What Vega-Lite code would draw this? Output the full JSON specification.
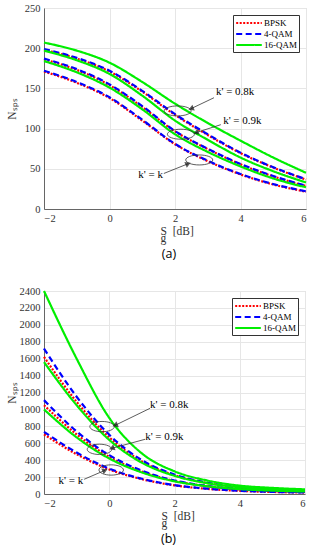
{
  "$schema": "https://vega.github.io/schema/vega-lite/v6.json",
  "padding": {"left": 5, "top": 2, "right": 4, "bottom": 2},
  "background": "white",
  "config": {
    "view": {"stroke": "#d0d0d0", "strokeWidth": 1},
    "axis": {"labelFont": "Liberation Serif", "labelFontSize": 10.5, "labelColor": "#333333", "titleFont": "Liberation Serif", "titleFontSize": 11.5, "titleFontWeight": "normal", "titleColor": "#333333", "gridColor": "#e6e6e6", "domainColor": "#666666", "ticks": false, "labelPadding": 4, "titleLineHeight": 7, "labelOverlap": false, "format": "d"},
    "legend": {"orient": "top-right", "offset": 7, "strokeColor": "#333333", "fillColor": "white", "padding": 2, "labelFont": "Liberation Serif", "labelFontSize": 9, "labelColor": "#000000", "symbolType": "M-2.7,0H2.7", "symbolSize": 90, "symbolOffset": 8, "labelOffset": 9, "rowPadding": 0, "symbolStrokeWidth": 2},
    "title": {"font": "Open Sans", "fontSize": 12.5, "fontWeight": "normal", "color": "#000000"}
  },
  "datasets": {
    "curves": [
      {"panel":"a","mod":"BPSK","grp":"k","sg":-2,"nsps":171},{"panel":"a","mod":"BPSK","grp":"k","sg":-1,"nsps":157},{"panel":"a","mod":"BPSK","grp":"k","sg":0,"nsps":138},{"panel":"a","mod":"BPSK","grp":"k","sg":1,"nsps":110},{"panel":"a","mod":"BPSK","grp":"k","sg":2,"nsps":80.5},{"panel":"a","mod":"BPSK","grp":"k","sg":3,"nsps":59.5},{"panel":"a","mod":"BPSK","grp":"k","sg":4,"nsps":43},{"panel":"a","mod":"BPSK","grp":"k","sg":5,"nsps":30.5},{"panel":"a","mod":"BPSK","grp":"k","sg":6,"nsps":21.5},
      {"panel":"a","mod":"BPSK","grp":"0.9k","sg":-2,"nsps":186},{"panel":"a","mod":"BPSK","grp":"0.9k","sg":-1,"nsps":173},{"panel":"a","mod":"BPSK","grp":"0.9k","sg":0,"nsps":154},{"panel":"a","mod":"BPSK","grp":"0.9k","sg":1,"nsps":127},{"panel":"a","mod":"BPSK","grp":"0.9k","sg":2,"nsps":96.5},{"panel":"a","mod":"BPSK","grp":"0.9k","sg":3,"nsps":74.5},{"panel":"a","mod":"BPSK","grp":"0.9k","sg":4,"nsps":55.5},{"panel":"a","mod":"BPSK","grp":"0.9k","sg":5,"nsps":40.5},{"panel":"a","mod":"BPSK","grp":"0.9k","sg":6,"nsps":28.5},
      {"panel":"a","mod":"BPSK","grp":"0.8k","sg":-2,"nsps":198},{"panel":"a","mod":"BPSK","grp":"0.8k","sg":-1,"nsps":187},{"panel":"a","mod":"BPSK","grp":"0.8k","sg":0,"nsps":171},{"panel":"a","mod":"BPSK","grp":"0.8k","sg":1,"nsps":146},{"panel":"a","mod":"BPSK","grp":"0.8k","sg":2,"nsps":117},{"panel":"a","mod":"BPSK","grp":"0.8k","sg":3,"nsps":92},{"panel":"a","mod":"BPSK","grp":"0.8k","sg":4,"nsps":69.5},{"panel":"a","mod":"BPSK","grp":"0.8k","sg":5,"nsps":51.5},{"panel":"a","mod":"BPSK","grp":"0.8k","sg":6,"nsps":36.5},
      {"panel":"a","mod":"4-QAM","grp":"k","sg":-2,"nsps":172},{"panel":"a","mod":"4-QAM","grp":"k","sg":-1,"nsps":158},{"panel":"a","mod":"4-QAM","grp":"k","sg":0,"nsps":139},{"panel":"a","mod":"4-QAM","grp":"k","sg":1,"nsps":111},{"panel":"a","mod":"4-QAM","grp":"k","sg":2,"nsps":81},{"panel":"a","mod":"4-QAM","grp":"k","sg":3,"nsps":60},{"panel":"a","mod":"4-QAM","grp":"k","sg":4,"nsps":43.5},{"panel":"a","mod":"4-QAM","grp":"k","sg":5,"nsps":31},{"panel":"a","mod":"4-QAM","grp":"k","sg":6,"nsps":22},
      {"panel":"a","mod":"4-QAM","grp":"0.9k","sg":-2,"nsps":187},{"panel":"a","mod":"4-QAM","grp":"0.9k","sg":-1,"nsps":174},{"panel":"a","mod":"4-QAM","grp":"0.9k","sg":0,"nsps":155},{"panel":"a","mod":"4-QAM","grp":"0.9k","sg":1,"nsps":128},{"panel":"a","mod":"4-QAM","grp":"0.9k","sg":2,"nsps":97},{"panel":"a","mod":"4-QAM","grp":"0.9k","sg":3,"nsps":75},{"panel":"a","mod":"4-QAM","grp":"0.9k","sg":4,"nsps":56},{"panel":"a","mod":"4-QAM","grp":"0.9k","sg":5,"nsps":41},{"panel":"a","mod":"4-QAM","grp":"0.9k","sg":6,"nsps":29},
      {"panel":"a","mod":"4-QAM","grp":"0.8k","sg":-2,"nsps":199},{"panel":"a","mod":"4-QAM","grp":"0.8k","sg":-1,"nsps":188},{"panel":"a","mod":"4-QAM","grp":"0.8k","sg":0,"nsps":172},{"panel":"a","mod":"4-QAM","grp":"0.8k","sg":1,"nsps":147},{"panel":"a","mod":"4-QAM","grp":"0.8k","sg":2,"nsps":118},{"panel":"a","mod":"4-QAM","grp":"0.8k","sg":3,"nsps":93},{"panel":"a","mod":"4-QAM","grp":"0.8k","sg":4,"nsps":70},{"panel":"a","mod":"4-QAM","grp":"0.8k","sg":5,"nsps":52},{"panel":"a","mod":"4-QAM","grp":"0.8k","sg":6,"nsps":37},
      {"panel":"a","mod":"16-QAM","grp":"k","sg":-2,"nsps":184},{"panel":"a","mod":"16-QAM","grp":"k","sg":-1,"nsps":170},{"panel":"a","mod":"16-QAM","grp":"k","sg":0,"nsps":151},{"panel":"a","mod":"16-QAM","grp":"k","sg":1,"nsps":124},{"panel":"a","mod":"16-QAM","grp":"k","sg":2,"nsps":93},{"panel":"a","mod":"16-QAM","grp":"k","sg":3,"nsps":71},{"panel":"a","mod":"16-QAM","grp":"k","sg":4,"nsps":53},{"panel":"a","mod":"16-QAM","grp":"k","sg":5,"nsps":38},{"panel":"a","mod":"16-QAM","grp":"k","sg":6,"nsps":27},
      {"panel":"a","mod":"16-QAM","grp":"0.9k","sg":-2,"nsps":197},{"panel":"a","mod":"16-QAM","grp":"0.9k","sg":-1,"nsps":185},{"panel":"a","mod":"16-QAM","grp":"0.9k","sg":0,"nsps":168},{"panel":"a","mod":"16-QAM","grp":"0.9k","sg":1,"nsps":141},{"panel":"a","mod":"16-QAM","grp":"0.9k","sg":2,"nsps":110},{"panel":"a","mod":"16-QAM","grp":"0.9k","sg":3,"nsps":86},{"panel":"a","mod":"16-QAM","grp":"0.9k","sg":4,"nsps":64},{"panel":"a","mod":"16-QAM","grp":"0.9k","sg":5,"nsps":47},{"panel":"a","mod":"16-QAM","grp":"0.9k","sg":6,"nsps":33},
      {"panel":"a","mod":"16-QAM","grp":"0.8k","sg":-2,"nsps":207},{"panel":"a","mod":"16-QAM","grp":"0.8k","sg":-1,"nsps":197},{"panel":"a","mod":"16-QAM","grp":"0.8k","sg":0,"nsps":182},{"panel":"a","mod":"16-QAM","grp":"0.8k","sg":1,"nsps":158},{"panel":"a","mod":"16-QAM","grp":"0.8k","sg":2,"nsps":131},{"panel":"a","mod":"16-QAM","grp":"0.8k","sg":3,"nsps":107},{"panel":"a","mod":"16-QAM","grp":"0.8k","sg":4,"nsps":85},{"panel":"a","mod":"16-QAM","grp":"0.8k","sg":5,"nsps":64},{"panel":"a","mod":"16-QAM","grp":"0.8k","sg":6,"nsps":45},
      {"panel":"b","mod":"BPSK","grp":"k","sg":-2,"nsps":705},{"panel":"b","mod":"BPSK","grp":"k","sg":-1,"nsps":470},{"panel":"b","mod":"BPSK","grp":"k","sg":0,"nsps":290},{"panel":"b","mod":"BPSK","grp":"k","sg":1,"nsps":175},{"panel":"b","mod":"BPSK","grp":"k","sg":2,"nsps":102},{"panel":"b","mod":"BPSK","grp":"k","sg":3,"nsps":61},{"panel":"b","mod":"BPSK","grp":"k","sg":4,"nsps":37},{"panel":"b","mod":"BPSK","grp":"k","sg":5,"nsps":24},{"panel":"b","mod":"BPSK","grp":"k","sg":6,"nsps":17},
      {"panel":"b","mod":"BPSK","grp":"0.9k","sg":-2,"nsps":1050},{"panel":"b","mod":"BPSK","grp":"0.9k","sg":-1,"nsps":705},{"panel":"b","mod":"BPSK","grp":"0.9k","sg":0,"nsps":440},{"panel":"b","mod":"BPSK","grp":"0.9k","sg":1,"nsps":265},{"panel":"b","mod":"BPSK","grp":"0.9k","sg":2,"nsps":155},{"panel":"b","mod":"BPSK","grp":"0.9k","sg":3,"nsps":92},{"panel":"b","mod":"BPSK","grp":"0.9k","sg":4,"nsps":55},{"panel":"b","mod":"BPSK","grp":"0.9k","sg":5,"nsps":36},{"panel":"b","mod":"BPSK","grp":"0.9k","sg":6,"nsps":25},
      {"panel":"b","mod":"BPSK","grp":"0.8k","sg":-2,"nsps":1620},{"panel":"b","mod":"BPSK","grp":"0.8k","sg":-1,"nsps":1090},{"panel":"b","mod":"BPSK","grp":"0.8k","sg":0,"nsps":670},{"panel":"b","mod":"BPSK","grp":"0.8k","sg":1,"nsps":385},{"panel":"b","mod":"BPSK","grp":"0.8k","sg":2,"nsps":222},{"panel":"b","mod":"BPSK","grp":"0.8k","sg":3,"nsps":130},{"panel":"b","mod":"BPSK","grp":"0.8k","sg":4,"nsps":78},{"panel":"b","mod":"BPSK","grp":"0.8k","sg":5,"nsps":49},{"panel":"b","mod":"BPSK","grp":"0.8k","sg":6,"nsps":34},
      {"panel":"b","mod":"4-QAM","grp":"k","sg":-2,"nsps":735},{"panel":"b","mod":"4-QAM","grp":"k","sg":-1,"nsps":490},{"panel":"b","mod":"4-QAM","grp":"k","sg":0,"nsps":300},{"panel":"b","mod":"4-QAM","grp":"k","sg":1,"nsps":180},{"panel":"b","mod":"4-QAM","grp":"k","sg":2,"nsps":105},{"panel":"b","mod":"4-QAM","grp":"k","sg":3,"nsps":63},{"panel":"b","mod":"4-QAM","grp":"k","sg":4,"nsps":38},{"panel":"b","mod":"4-QAM","grp":"k","sg":5,"nsps":25},{"panel":"b","mod":"4-QAM","grp":"k","sg":6,"nsps":18},
      {"panel":"b","mod":"4-QAM","grp":"0.9k","sg":-2,"nsps":1110},{"panel":"b","mod":"4-QAM","grp":"0.9k","sg":-1,"nsps":740},{"panel":"b","mod":"4-QAM","grp":"0.9k","sg":0,"nsps":460},{"panel":"b","mod":"4-QAM","grp":"0.9k","sg":1,"nsps":275},{"panel":"b","mod":"4-QAM","grp":"0.9k","sg":2,"nsps":160},{"panel":"b","mod":"4-QAM","grp":"0.9k","sg":3,"nsps":95},{"panel":"b","mod":"4-QAM","grp":"0.9k","sg":4,"nsps":57},{"panel":"b","mod":"4-QAM","grp":"0.9k","sg":5,"nsps":37},{"panel":"b","mod":"4-QAM","grp":"0.9k","sg":6,"nsps":26},
      {"panel":"b","mod":"4-QAM","grp":"0.8k","sg":-2,"nsps":1720},{"panel":"b","mod":"4-QAM","grp":"0.8k","sg":-1,"nsps":1150},{"panel":"b","mod":"4-QAM","grp":"0.8k","sg":0,"nsps":700},{"panel":"b","mod":"4-QAM","grp":"0.8k","sg":1,"nsps":400},{"panel":"b","mod":"4-QAM","grp":"0.8k","sg":2,"nsps":230},{"panel":"b","mod":"4-QAM","grp":"0.8k","sg":3,"nsps":135},{"panel":"b","mod":"4-QAM","grp":"0.8k","sg":4,"nsps":80},{"panel":"b","mod":"4-QAM","grp":"0.8k","sg":5,"nsps":50},{"panel":"b","mod":"4-QAM","grp":"0.8k","sg":6,"nsps":35},
      {"panel":"b","mod":"16-QAM","grp":"k","sg":-2,"nsps":1000},{"panel":"b","mod":"16-QAM","grp":"k","sg":-1,"nsps":670},{"panel":"b","mod":"16-QAM","grp":"k","sg":0,"nsps":420},{"panel":"b","mod":"16-QAM","grp":"k","sg":1,"nsps":255},{"panel":"b","mod":"16-QAM","grp":"k","sg":2,"nsps":150},{"panel":"b","mod":"16-QAM","grp":"k","sg":3,"nsps":92},{"panel":"b","mod":"16-QAM","grp":"k","sg":4,"nsps":58},{"panel":"b","mod":"16-QAM","grp":"k","sg":5,"nsps":40},{"panel":"b","mod":"16-QAM","grp":"k","sg":6,"nsps":30},
      {"panel":"b","mod":"16-QAM","grp":"0.9k","sg":-2,"nsps":1560},{"panel":"b","mod":"16-QAM","grp":"0.9k","sg":-1,"nsps":1050},{"panel":"b","mod":"16-QAM","grp":"0.9k","sg":0,"nsps":640},{"panel":"b","mod":"16-QAM","grp":"0.9k","sg":1,"nsps":370},{"panel":"b","mod":"16-QAM","grp":"0.9k","sg":2,"nsps":215},{"panel":"b","mod":"16-QAM","grp":"0.9k","sg":3,"nsps":128},{"panel":"b","mod":"16-QAM","grp":"0.9k","sg":4,"nsps":80},{"panel":"b","mod":"16-QAM","grp":"0.9k","sg":5,"nsps":55},{"panel":"b","mod":"16-QAM","grp":"0.9k","sg":6,"nsps":42},
      {"panel":"b","mod":"16-QAM","grp":"0.8k","sg":-2,"nsps":2400},{"panel":"b","mod":"16-QAM","grp":"0.8k","sg":-1,"nsps":1600},{"panel":"b","mod":"16-QAM","grp":"0.8k","sg":0,"nsps":900},{"panel":"b","mod":"16-QAM","grp":"0.8k","sg":1,"nsps":480},{"panel":"b","mod":"16-QAM","grp":"0.8k","sg":2,"nsps":268},{"panel":"b","mod":"16-QAM","grp":"0.8k","sg":3,"nsps":160},{"panel":"b","mod":"16-QAM","grp":"0.8k","sg":4,"nsps":99},{"panel":"b","mod":"16-QAM","grp":"0.8k","sg":5,"nsps":72},{"panel":"b","mod":"16-QAM","grp":"0.8k","sg":6,"nsps":55}
    ],
    "notes": [
      {"panel":"a","label":"k' = 0.8k","tx":3.25,"ty":145,"x1":3.19,"y1":138.4,"x2":2.49,"y2":124.8,"ex":2.08,"ey":122},
      {"panel":"a","label":"k' = 0.9k","tx":3.47,"ty":109,"x1":3.40,"y1":104.9,"x2":2.64,"y2":95.0,"ex":2.18,"ey":93},
      {"panel":"a","label":"k' = k","tx":1.63,"ty":42.7,"x1":1.66,"y1":44.2,"x2":2.40,"y2":56.3,"ex":2.74,"ey":61},
      {"panel":"b","label":"k' = 0.8k","tx":1.25,"ty":1049,"x1":1.25,"y1":1013,"x2":0.18,"y2":812,"ex":-0.22,"ey":797},
      {"panel":"b","label":"k' = 0.9k","tx":1.10,"ty":670,"x1":1.10,"y1":647,"x2":0.08,"y2":540,"ex":-0.30,"ey":528},
      {"panel":"b","label":"k' = k","tx":-0.80,"ty":154,"x1":-0.77,"y1":174,"x2":-0.13,"y2":280,"ex":0.06,"ey":284}
    ]
  },
  "spacing": 24,
  "resolve": {"scale": {"x": "independent", "y": "independent", "color": "independent", "strokeDash": "independent"}, "legend": {"color": "independent", "strokeDash": "independent"}},
  "vconcat": [
    {
      "width": 262, "height": 201,
      "title": {"text": "(a)", "orient": "bottom", "offset": 4, "frame": "group", "dx": -6},
      "layer": [
        {
          "data": {"name": "curves"},
          "transform": [{"filter": "datum.panel == 'a'"}],
          "mark": {"type": "line", "interpolate": "monotone", "strokeWidth": 2.2},
          "encoding": {
            "x": {"field": "sg", "type": "quantitative", "scale": {"domain": [-2, 6], "nice": false, "zero": false}, "axis": {"values": [-2, 0, 2, 4, 6], "title": ["S\u00a0\u00a0[dB]", "\u2009g"], "titleAlign": "left", "titleX": 116, "titlePadding": 2}},
            "y": {"field": "nsps", "type": "quantitative", "scale": {"domain": [0, 250], "nice": false}, "axis": {"values": [0, 50, 100, 150, 200, 250], "title": "N\u209b\u209a\u209b", "titlePadding": 7}},
            "color": {"field": "mod", "type": "nominal", "scale": {"domain": ["BPSK", "4-QAM", "16-QAM"], "range": ["#ff0000", "#0000ff", "#00ee00"]}, "legend": {"title": null}},
            "strokeDash": {"field": "mod", "type": "nominal", "scale": {"domain": ["BPSK", "4-QAM", "16-QAM"], "range": [[2, 1.5], [6, 3.5], [1, 0]]}, "legend": {"title": null}},
            "detail": {"field": "grp"}
          }
        },
        {
          "data": {"name": "notes"},
          "transform": [{"filter": "datum.panel == 'a'"}],
          "mark": {"type": "rule", "color": "#333333", "strokeWidth": 0.8},
          "encoding": {
            "x": {"field": "x1", "type": "quantitative", "axis": {"values": [-2, 0, 2, 4, 6], "title": ["S\u00a0\u00a0[dB]", "\u2009g"], "titleAlign": "left", "titleX": 116, "titlePadding": 2}},
            "y": {"field": "y1", "type": "quantitative", "axis": {"values": [0, 50, 100, 150, 200, 250], "title": "N\u209b\u209a\u209b", "titlePadding": 7}},
            "x2": {"field": "x2"},
            "y2": {"field": "y2"}
          }
        },
        {
          "data": {"name": "notes"},
          "transform": [{"filter": "datum.panel == 'a' && datum.label != \"k' = k\""}],
          "mark": {"type": "point", "shape": "triangle-right", "filled": true, "color": "#111111", "size": 40, "angle": 158},
          "encoding": {
            "x": {"field": "x2", "type": "quantitative", "axis": {"values": [-2, 0, 2, 4, 6], "title": ["S\u00a0\u00a0[dB]", "\u2009g"], "titleAlign": "left", "titleX": 116, "titlePadding": 2}},
            "y": {"field": "y2", "type": "quantitative", "axis": {"values": [0, 50, 100, 150, 200, 250], "title": "N\u209b\u209a\u209b", "titlePadding": 7}}
          }
        },
        {
          "data": {"name": "notes"},
          "transform": [{"filter": "datum.panel == 'a' && datum.label == \"k' = k\""}],
          "mark": {"type": "point", "shape": "triangle-right", "filled": true, "color": "#111111", "size": 40, "angle": 337},
          "encoding": {
            "x": {"field": "x2", "type": "quantitative", "axis": {"values": [-2, 0, 2, 4, 6], "title": ["S\u00a0\u00a0[dB]", "\u2009g"], "titleAlign": "left", "titleX": 116, "titlePadding": 2}},
            "y": {"field": "y2", "type": "quantitative", "axis": {"values": [0, 50, 100, 150, 200, 250], "title": "N\u209b\u209a\u209b", "titlePadding": 7}}
          }
        },
        {
          "data": {"name": "notes"},
          "transform": [{"filter": "datum.panel == 'a'"}],
          "mark": {"type": "point", "shape": "M-1,0A1,0.37,0,1,1,1,0A1,0.37,0,1,1,-1,0Z", "filled": false, "color": "#333333", "strokeWidth": 0.8, "size": 729, "opacity": 1},
          "encoding": {
            "x": {"field": "ex", "type": "quantitative", "axis": {"values": [-2, 0, 2, 4, 6], "title": ["S\u00a0\u00a0[dB]", "\u2009g"], "titleAlign": "left", "titleX": 116, "titlePadding": 2}},
            "y": {"field": "ey", "type": "quantitative", "axis": {"values": [0, 50, 100, 150, 200, 250], "title": "N\u209b\u209a\u209b", "titlePadding": 7}}
          }
        },
        {
          "data": {"name": "notes"},
          "transform": [{"filter": "datum.panel == 'a' && datum.label != \"k' = k\""}],
          "mark": {"type": "text", "align": "left", "baseline": "middle", "font": "Liberation Serif", "fontSize": 11, "color": "#000000"},
          "encoding": {
            "x": {"field": "tx", "type": "quantitative", "axis": {"values": [-2, 0, 2, 4, 6], "title": ["S\u00a0\u00a0[dB]", "\u2009g"], "titleAlign": "left", "titleX": 116, "titlePadding": 2}},
            "y": {"field": "ty", "type": "quantitative", "axis": {"values": [0, 50, 100, 150, 200, 250], "title": "N\u209b\u209a\u209b", "titlePadding": 7}},
            "text": {"field": "label"}
          }
        },
        {
          "data": {"name": "notes"},
          "transform": [{"filter": "datum.panel == 'a' && datum.label == \"k' = k\""}],
          "mark": {"type": "text", "align": "right", "baseline": "middle", "font": "Liberation Serif", "fontSize": 11, "color": "#000000"},
          "encoding": {
            "x": {"field": "tx", "type": "quantitative", "axis": {"values": [-2, 0, 2, 4, 6], "title": ["S\u00a0\u00a0[dB]", "\u2009g"], "titleAlign": "left", "titleX": 116, "titlePadding": 2}},
            "y": {"field": "ty", "type": "quantitative", "axis": {"values": [0, 50, 100, 150, 200, 250], "title": "N\u209b\u209a\u209b", "titlePadding": 7}},
            "text": {"field": "label"}
          }
        }
      ]
    },
    {
      "width": 261, "height": 203,
      "title": {"text": "(b)", "orient": "bottom", "offset": 4, "frame": "group", "dx": -6},
      "layer": [
        {
          "data": {"name": "curves"},
          "transform": [{"filter": "datum.panel == 'b'"}],
          "mark": {"type": "line", "interpolate": "monotone", "strokeWidth": 2.2},
          "encoding": {
            "x": {"field": "sg", "type": "quantitative", "scale": {"domain": [-2, 6], "nice": false, "zero": false}, "axis": {"values": [-2, 0, 2, 4, 6], "title": ["S\u00a0\u00a0[dB]", "\u2009g"], "titleAlign": "left", "titleX": 117, "titlePadding": 2}},
            "y": {"field": "nsps", "type": "quantitative", "scale": {"domain": [0, 2400], "nice": false}, "axis": {"values": [0, 200, 400, 600, 800, 1000, 1200, 1400, 1600, 1800, 2000, 2200, 2400], "title": "N\u209b\u209a\u209b", "titlePadding": 2}},
            "color": {"field": "mod", "type": "nominal", "scale": {"domain": ["BPSK", "4-QAM", "16-QAM"], "range": ["#ff0000", "#0000ff", "#00ee00"]}, "legend": {"title": null}},
            "strokeDash": {"field": "mod", "type": "nominal", "scale": {"domain": ["BPSK", "4-QAM", "16-QAM"], "range": [[2, 1.5], [6, 3.5], [1, 0]]}, "legend": {"title": null}},
            "detail": {"field": "grp"}
          }
        },
        {
          "data": {"name": "notes"},
          "transform": [{"filter": "datum.panel == 'b'"}],
          "mark": {"type": "rule", "color": "#333333", "strokeWidth": 0.8},
          "encoding": {
            "x": {"field": "x1", "type": "quantitative", "axis": {"values": [-2, 0, 2, 4, 6], "title": ["S\u00a0\u00a0[dB]", "\u2009g"], "titleAlign": "left", "titleX": 117, "titlePadding": 2}},
            "y": {"field": "y1", "type": "quantitative", "axis": {"values": [0, 200, 400, 600, 800, 1000, 1200, 1400, 1600, 1800, 2000, 2200, 2400], "title": "N\u209b\u209a\u209b", "titlePadding": 2}},
            "x2": {"field": "x2"},
            "y2": {"field": "y2"}
          }
        },
        {
          "data": {"name": "notes"},
          "transform": [{"filter": "datum.panel == 'b' && datum.label != \"k' = k\""}],
          "mark": {"type": "point", "shape": "triangle-right", "filled": true, "color": "#111111", "size": 40, "angle": 158},
          "encoding": {
            "x": {"field": "x2", "type": "quantitative", "axis": {"values": [-2, 0, 2, 4, 6], "title": ["S\u00a0\u00a0[dB]", "\u2009g"], "titleAlign": "left", "titleX": 117, "titlePadding": 2}},
            "y": {"field": "y2", "type": "quantitative", "axis": {"values": [0, 200, 400, 600, 800, 1000, 1200, 1400, 1600, 1800, 2000, 2200, 2400], "title": "N\u209b\u209a\u209b", "titlePadding": 2}}
          }
        },
        {
          "data": {"name": "notes"},
          "transform": [{"filter": "datum.panel == 'b' && datum.label == \"k' = k\""}],
          "mark": {"type": "point", "shape": "triangle-right", "filled": true, "color": "#111111", "size": 40, "angle": 337},
          "encoding": {
            "x": {"field": "x2", "type": "quantitative", "axis": {"values": [-2, 0, 2, 4, 6], "title": ["S\u00a0\u00a0[dB]", "\u2009g"], "titleAlign": "left", "titleX": 117, "titlePadding": 2}},
            "y": {"field": "y2", "type": "quantitative", "axis": {"values": [0, 200, 400, 600, 800, 1000, 1200, 1400, 1600, 1800, 2000, 2200, 2400], "title": "N\u209b\u209a\u209b", "titlePadding": 2}}
          }
        },
        {
          "data": {"name": "notes"},
          "transform": [{"filter": "datum.panel == 'b'"}],
          "mark": {"type": "point", "shape": "M-1,0A1,0.42,0,1,1,1,0A1,0.42,0,1,1,-1,0Z", "filled": false, "color": "#333333", "strokeWidth": 0.8, "size": 600, "opacity": 1},
          "encoding": {
            "x": {"field": "ex", "type": "quantitative", "axis": {"values": [-2, 0, 2, 4, 6], "title": ["S\u00a0\u00a0[dB]", "\u2009g"], "titleAlign": "left", "titleX": 117, "titlePadding": 2}},
            "y": {"field": "ey", "type": "quantitative", "axis": {"values": [0, 200, 400, 600, 800, 1000, 1200, 1400, 1600, 1800, 2000, 2200, 2400], "title": "N\u209b\u209a\u209b", "titlePadding": 2}}
          }
        },
        {
          "data": {"name": "notes"},
          "transform": [{"filter": "datum.panel == 'b' && datum.label != \"k' = k\""}],
          "mark": {"type": "text", "align": "left", "baseline": "middle", "font": "Liberation Serif", "fontSize": 11, "color": "#000000"},
          "encoding": {
            "x": {"field": "tx", "type": "quantitative", "axis": {"values": [-2, 0, 2, 4, 6], "title": ["S\u00a0\u00a0[dB]", "\u2009g"], "titleAlign": "left", "titleX": 117, "titlePadding": 2}},
            "y": {"field": "ty", "type": "quantitative", "axis": {"values": [0, 200, 400, 600, 800, 1000, 1200, 1400, 1600, 1800, 2000, 2200, 2400], "title": "N\u209b\u209a\u209b", "titlePadding": 2}},
            "text": {"field": "label"}
          }
        },
        {
          "data": {"name": "notes"},
          "transform": [{"filter": "datum.panel == 'b' && datum.label == \"k' = k\""}],
          "mark": {"type": "text", "align": "right", "baseline": "middle", "font": "Liberation Serif", "fontSize": 11, "color": "#000000"},
          "encoding": {
            "x": {"field": "tx", "type": "quantitative", "axis": {"values": [-2, 0, 2, 4, 6], "title": ["S\u00a0\u00a0[dB]", "\u2009g"], "titleAlign": "left", "titleX": 117, "titlePadding": 2}},
            "y": {"field": "ty", "type": "quantitative", "axis": {"values": [0, 200, 400, 600, 800, 1000, 1200, 1400, 1600, 1800, 2000, 2200, 2400], "title": "N\u209b\u209a\u209b", "titlePadding": 2}},
            "text": {"field": "label"}
          }
        }
      ]
    }
  ]
}
